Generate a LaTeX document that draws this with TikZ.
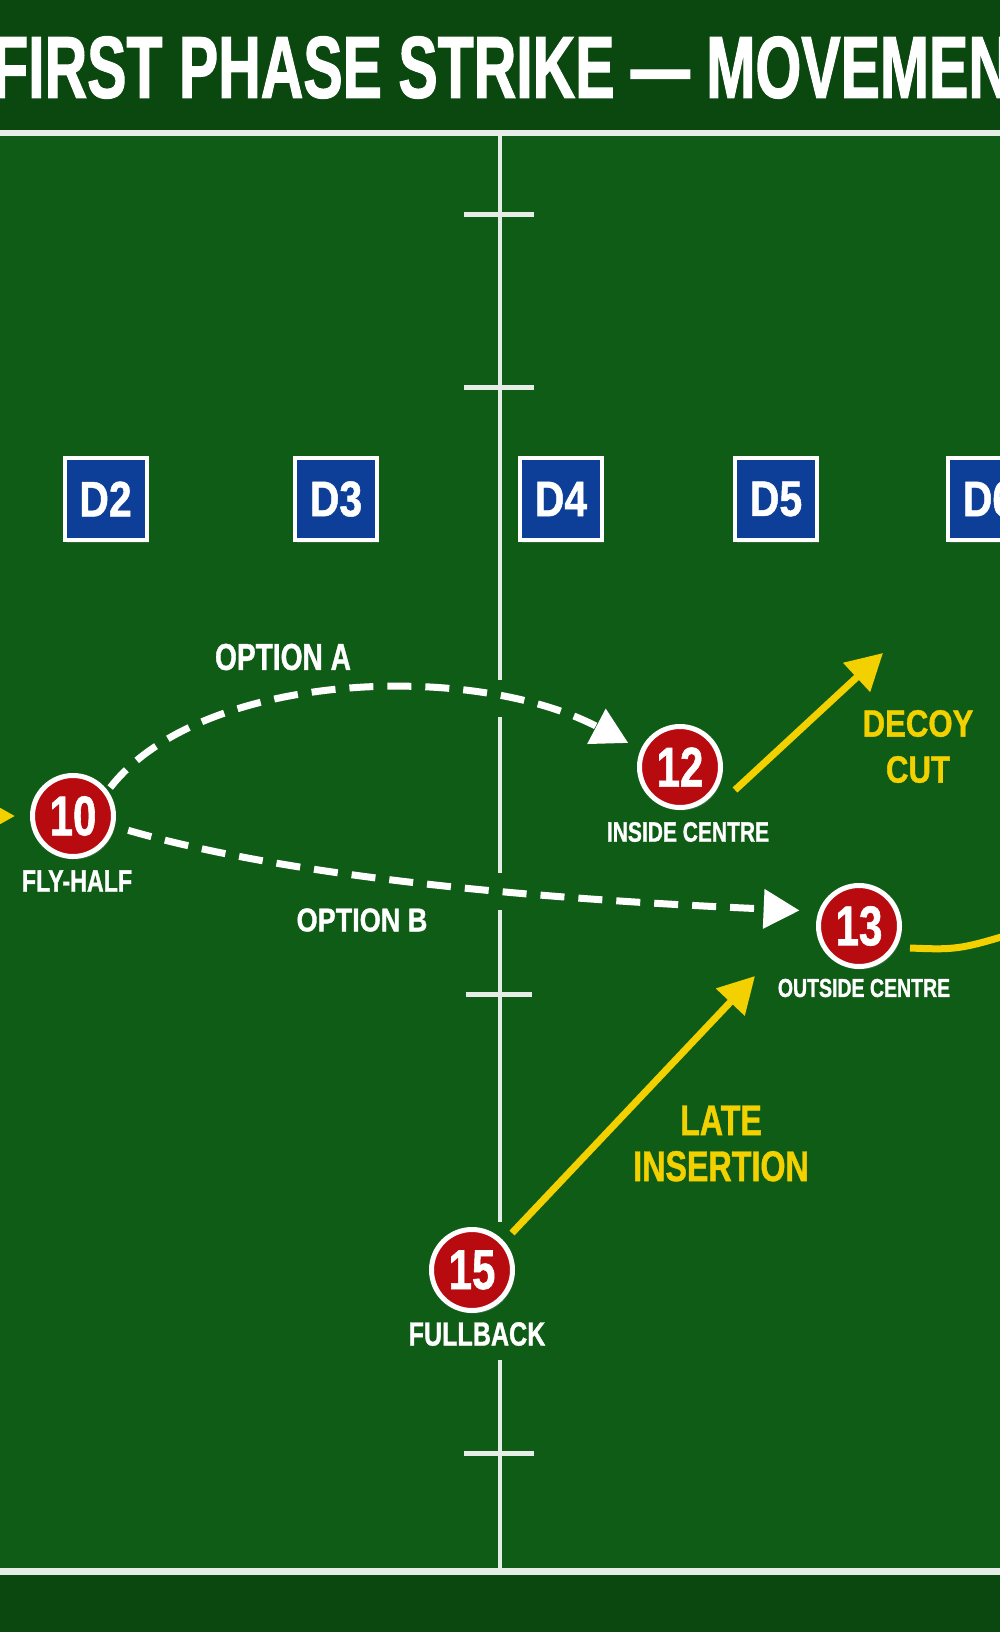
\documentclass[tikz,border=0pt]{standalone}
\usepackage{fontspec}
\setmainfont{Liberation Sans}
\newfontfamily\titlef[FakeStretch=0.67, BoldFeatures={FakeBold=1.2}]{Liberation Sans}
\newfontfamily\condf[FakeStretch=0.75, BoldFeatures={FakeBold=1}]{Liberation Sans}
\newfontfamily\widef[FakeStretch=0.82, BoldFeatures={FakeBold=1}]{Liberation Sans}
\usetikzlibrary{arrows.meta,shadows,calc}
\definecolor{field}{HTML}{0F5C16}
\definecolor{fielddark}{HTML}{0A4810}
\definecolor{pitchline}{HTML}{E6EDE6}
\definecolor{defblue}{HTML}{0E3F98}
\definecolor{defdark}{HTML}{0A2F78}
\definecolor{playred}{HTML}{B80B10}
\definecolor{runyellow}{HTML}{F3D000}
\begin{document}
\begin{tikzpicture}[x=1pt,y=-1pt,
  player/.style={circle, draw=white, line width=5pt, fill=playred, minimum size=81pt, inner sep=0pt,
    text=white, font=\condf\bfseries\fontsize{56}{56}\selectfont,
    drop shadow={opacity=0.35, shadow xshift=2pt, shadow yshift=-3pt}},
  defender/.style={rectangle, draw=white, line width=4pt, fill=defblue, minimum size=82pt, inner sep=0pt,
    text=white, font=\widef\bfseries\fontsize{50}{50}\selectfont,
    drop shadow={opacity=0.3, shadow xshift=2pt, shadow yshift=-3pt}},
  lbl/.style={text=white, inner sep=0pt, align=center},
  ylbl/.style={text=runyellow, inner sep=0pt, align=center},
  dashedrun/.style={draw=white, line width=7pt, dash pattern=on 24pt off 14pt, -{Triangle[length=36pt,width=38pt]}},
  yellowrun/.style={draw=runyellow, line width=7pt, -{Triangle[length=36pt,width=38pt]}},
  pline/.style={draw=pitchline, line width=4pt},
  tick/.style={draw=pitchline, line width=5pt}
]
\useasboundingbox (0,0) rectangle (1000,1632);
\clip (0,0) rectangle (1000,1632);
% background
\fill[fielddark] (0,0) rectangle (1000,1632);
\fill[field] (0,136) rectangle (1000,1570);
% pitch lines
\draw[pitchline, line width=6pt] (0,133) -- (1000,133);
\draw[pitchline, line width=7pt] (0,1571) -- (1000,1571);
\draw[pline] (500,133) -- (500,680);
\draw[pline] (500,717) -- (500,873);
\draw[pline] (500,910) -- (500,1222);
\draw[pline] (500,1360) -- (500,1569);
\draw[tick] (464,214) -- (534,214);
\draw[tick] (464,387) -- (534,387);
\draw[tick] (466,994) -- (532,994);
\draw[tick] (464,1453) -- (534,1453);
% title
\node[anchor=west, text=white, inner sep=0pt, font=\titlef\bfseries\fontsize{88}{88}\selectfont] (title) at (-8,67.5) {FIRST PHASE STRIKE — MOVEMENT};
% defenders
\node[defender] (d2) at (105.5,499) {D2};
\node[defender] (d3) at (336,499) {D3};
\node[defender] (d4) at (561,499) {D4};
\node[defender] (d5) at (776,499) {D5};
\node[defender] (d6) at (989,499) {D6};
% players
\node[player] (n10) at (73,816) {10};
\node[player] (n12) at (680,767) {12};
\node[player] (n13) at (859,926) {13};
\node[player] (n15) at (472,1270) {15};
% labels
\node[lbl, font=\condf\bfseries\fontsize{31}{31}\selectfont] (l10) at (77,881) {FLY-HALF};
\node[lbl, font=\condf\bfseries\fontsize{28}{28}\selectfont] (l12) at (688,832) {INSIDE CENTRE};
\node[lbl, font=\condf\bfseries\fontsize{26}{26}\selectfont] (l13) at (864,988) {OUTSIDE CENTRE};
\node[lbl, font=\condf\bfseries\fontsize{33.5}{33.5}\selectfont] (l15) at (477,1334) {FULLBACK};
\node[lbl, font=\condf\bfseries\fontsize{37.5}{37.5}\selectfont] (optA) at (283,657) {OPTION A};
\node[lbl, font=\widef\bfseries\fontsize{33}{33}\selectfont] (optB) at (362,920) {OPTION B};
\node[ylbl, font=\widef\bfseries\fontsize{38}{46}\selectfont] (decoy) at (918,746.5) {DECOY\\CUT};
\node[ylbl, font=\condf\bfseries\fontsize{43}{46}\selectfont] (late) at (721,1143.5) {LATE\\INSERTION};
% coordinates for free ends
\coordinate (decoytip) at (883,653);
\coordinate (latetip) at (755,976);
\coordinate (wideend) at (1040,925);
\coordinate (leftstart) at (-80,816);
% runs and passes
\draw[dashedrun, shorten <=4pt, shorten >=14pt] (n10.36) .. controls (200,672) and (470,660) .. (n12.156);
\draw[dashedrun, shorten <=14pt, shorten >=19pt] (n10.-14) .. controls (300,880) and (560,900) .. (n13.160);
\draw[yellowrun] ($(n12)+(55,23)$) -- (decoytip);
\draw[yellowrun] ($(n15)+(40,-37)$) -- (latetip);
\draw[draw=runyellow, line width=7pt] ($(n13)+(51,22)$) .. controls (960,950) .. (wideend);
\draw[yellowrun, shorten >=15pt] (leftstart) -- (n10);
\end{tikzpicture}
\end{document}
